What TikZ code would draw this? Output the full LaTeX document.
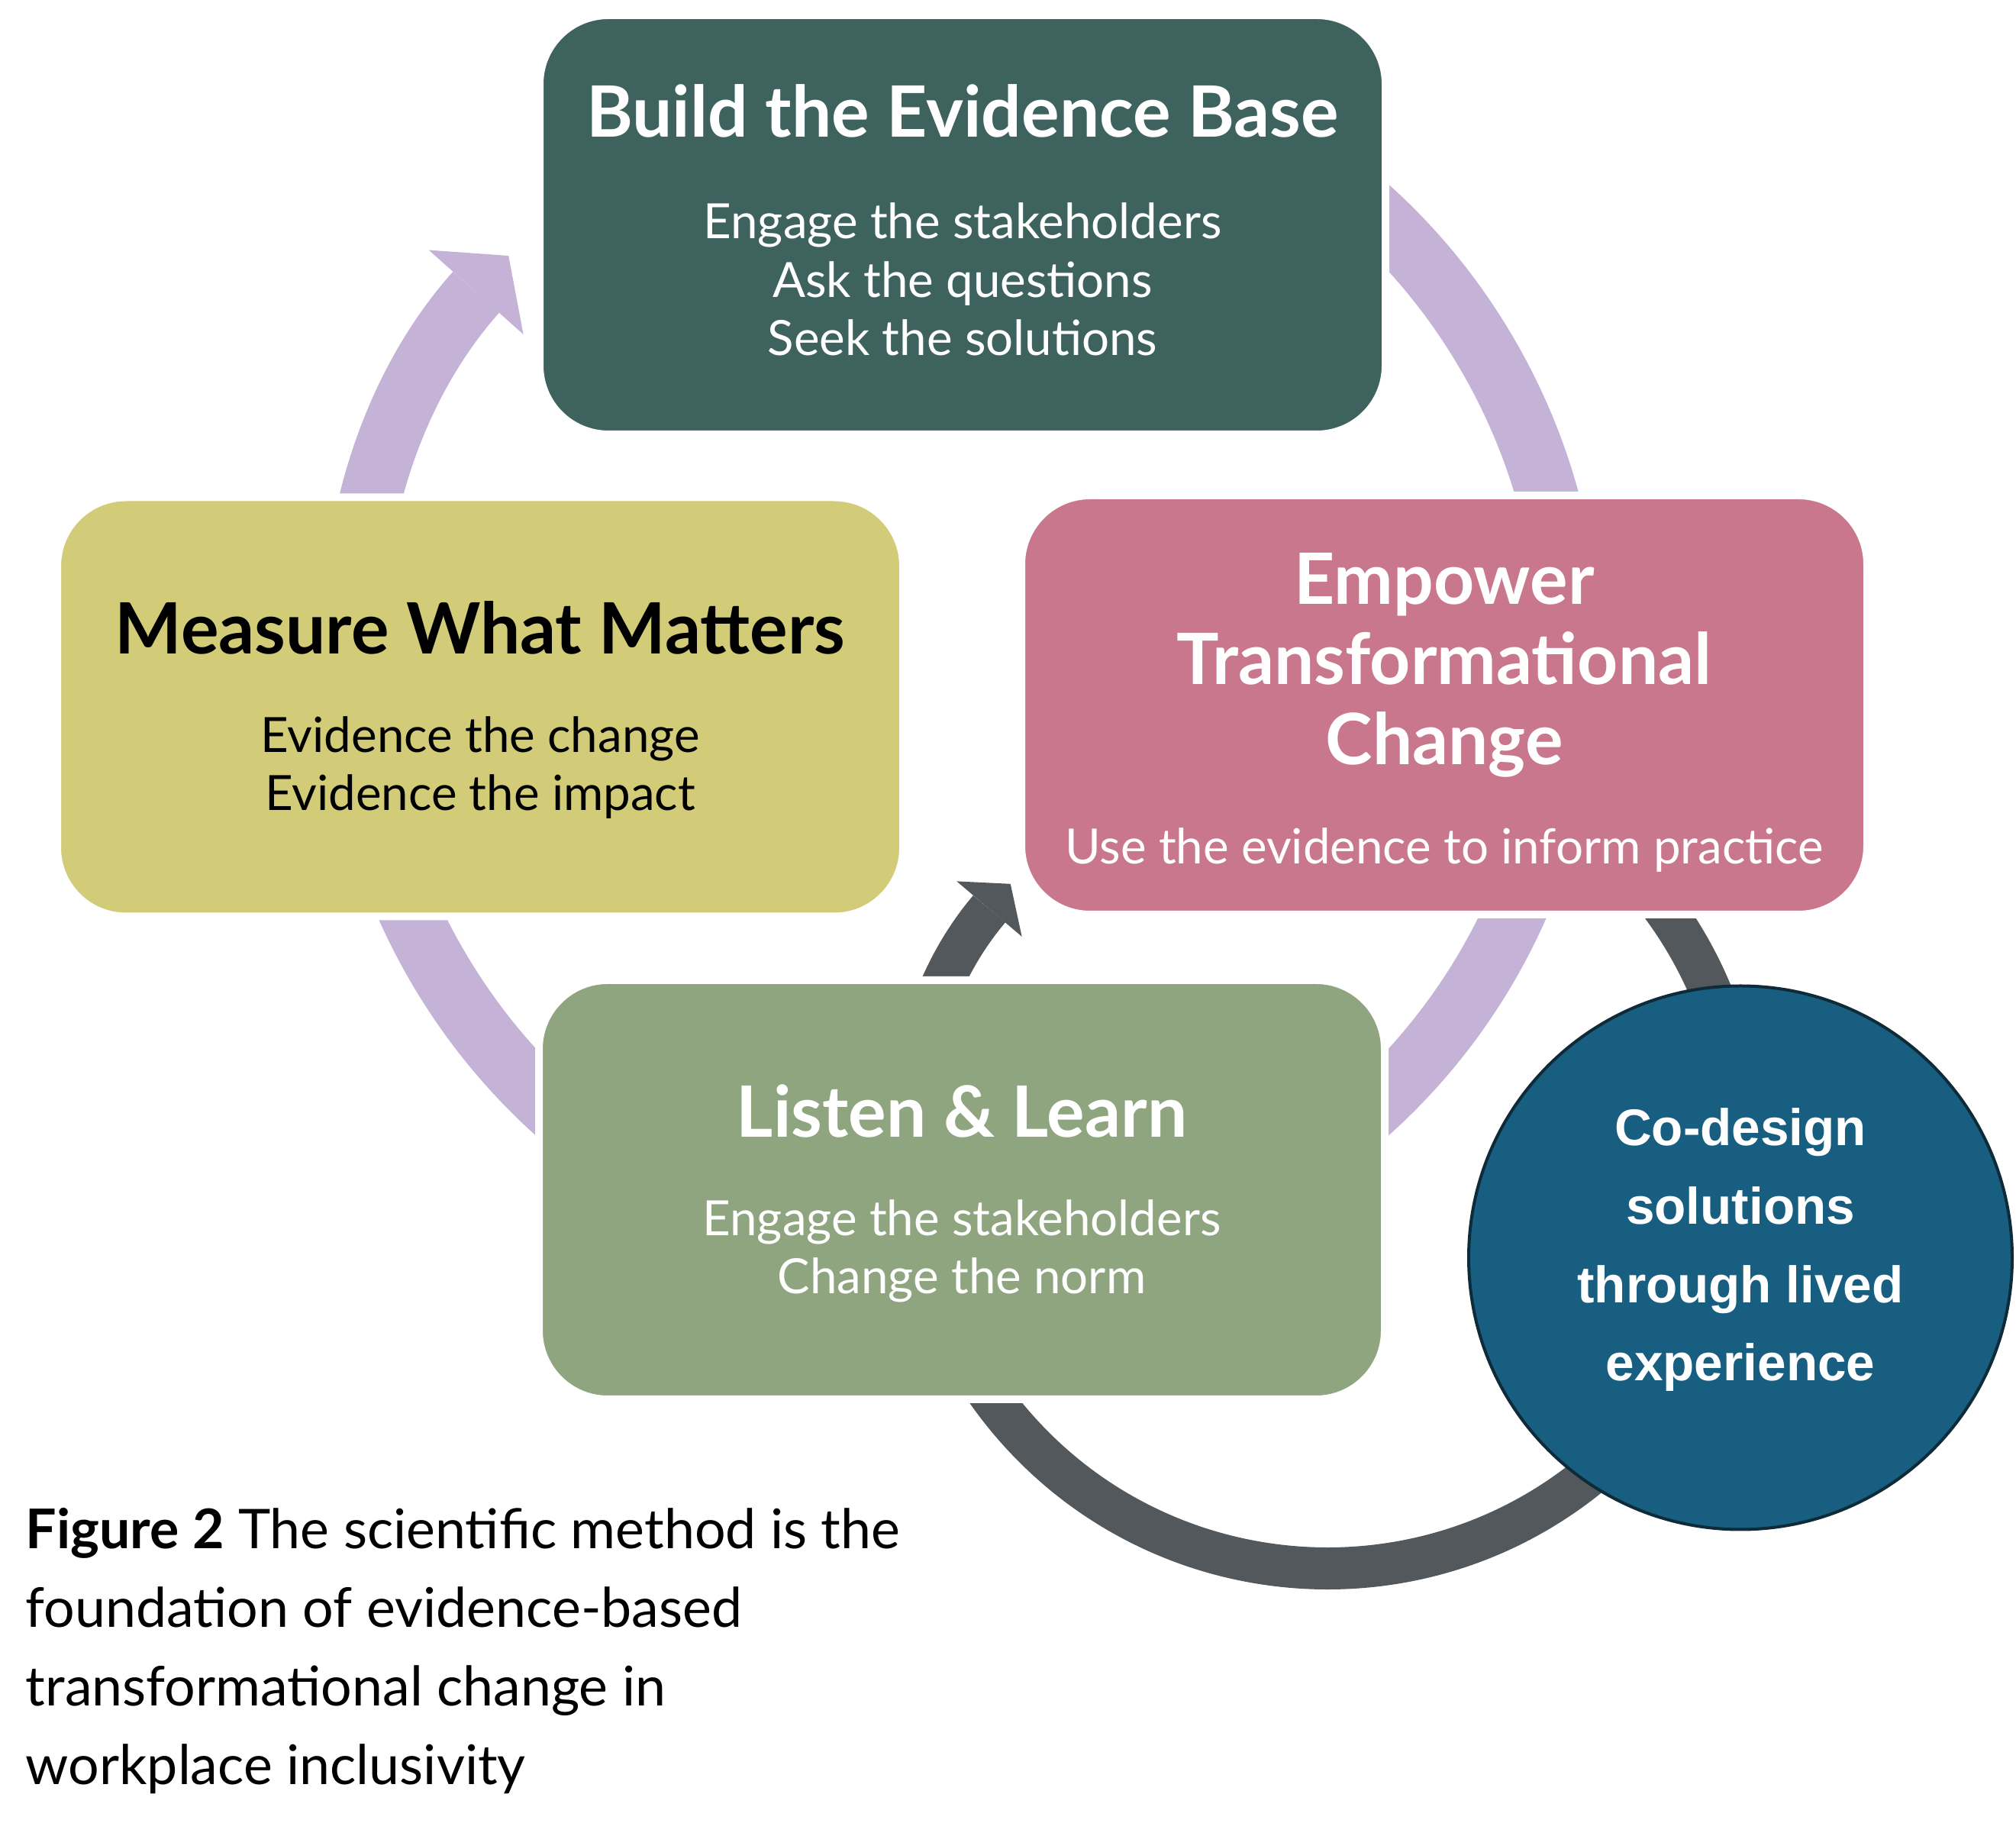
\documentclass[tikz,border=0pt]{standalone}
\usepackage{fontspec}
\setmainfont{Lato}
\newfontfamily\circfont{Liberation Sans}
\usetikzlibrary{positioning, arrows.meta}

\definecolor{buildcol}{HTML}{3E625D}
\definecolor{measurecol}{HTML}{D2CC78}
\definecolor{empowercol}{HTML}{C9778D}
\definecolor{listencol}{HTML}{8FA57F}
\definecolor{ringcol}{HTML}{C5B3D7}
\definecolor{loopcol}{HTML}{53585C}
\definecolor{codesigncol}{HTML}{175E80}
\definecolor{codeedge}{HTML}{0F2B3A}

\begin{document}
\begin{tikzpicture}
  [stage/.style={rectangle,rounded corners=0.9cm,minimum width=11.08cm,minimum height=5.49cm,draw=white,line width=0.1cm},
   heading/.style={anchor=base,align=center,font=\fontsize{26.4}{29.9}\selectfont\bfseries},
   lines/.style={anchor=base,align=center,font=\fontsize{18.1}{21.9}\selectfont},
   cyclering/.style={draw=ringcol,line width=0.81cm,-{Triangle[width=1.66cm,length=0.64cm,line width=0pt]}},
   codering/.style={draw=loopcol,line width=0.55cm,-{Triangle[width=1.12cm,length=0.43cm,line width=0pt]}}]

  \useasboundingbox (0,0) rectangle (26.41,24.04);

  % the two loops behind the boxes
  \coordinate (hub) at (12.605,15.395);
  \coordinate (loopc) at (17.39,8.94);
  \draw[cyclering] ([shift={(120:7.96)}]hub) arc[start angle=120,end angle=-221.7,radius=7.96];
  \draw[codering] ([shift={(40:5.445)}]loopc) arc[start angle=40,end angle=-220.3,radius=5.445];

  \node[stage,fill=buildcol]   (build)   at (12.61,21.095) {};
  \node[stage,fill=measurecol] (measure) at (6.29,14.78) {};
  \node[stage,fill=empowercol] (empower) at (18.92,14.805) {};
  \node[stage,fill=listencol]  (listen)  at (12.60,8.455) {};

  % multi-line texts sit on their last baseline
  \node[heading,text=white] (buildhead) at ([yshift=1.145cm]build.center) {Build the Evidence Base};
  \node[lines,text=white]   (buildbody) at ([yshift=-1.715cm]build.center)
                            {Engage the stakeholders\\Ask the questions\\Seek the solutions};

  \node[heading,text=black] (measurehead) at ([yshift=0.69cm]measure.center) {Measure What Matters};
  \node[lines,text=black]   (measurebody) at ([yshift=-1.36cm]measure.center)
                            {Evidence the change\\Evidence the impact};

  \node[heading,text=white] (empowerhead) at ([yshift=-0.785cm]empower.center)
                            {Empower\\Transformational\\Change};
  \node[lines,text=white]   (empowerbody) at ([yshift=-2.085cm]empower.center)
                            {Use the evidence to inform practice};

  \node[heading,text=white] (listenhead) at ([yshift=0.685cm]listen.center) {Listen \& Learn};
  \node[lines,text=white]   (listenbody) at ([yshift=-1.365cm]listen.center)
                            {Engage the stakeholders\\Change the norm};

  \node[circle,fill=codesigncol,draw=codeedge,line width=0.04cm,minimum size=7.12cm] (codesign) at (22.80,7.565) {};
  \node[anchor=base,align=center,text=white,font=\circfont\bfseries\fontsize{19.2}{29.3}\selectfont]
        (codesigntext) at ([yshift=-1.615cm]codesign.center) {Co-design\\solutions\\through lived\\experience};

  \node[anchor=base west,inner sep=0pt,align=left,font=\fontsize{20.4}{29.3}\selectfont] (caption) at (0.33,0.67)
        {\textbf{Figure 2} The scientific method is the\\foundation of evidence-based\\transformational change in\\workplace inclusivity};

\end{tikzpicture}
\end{document}
